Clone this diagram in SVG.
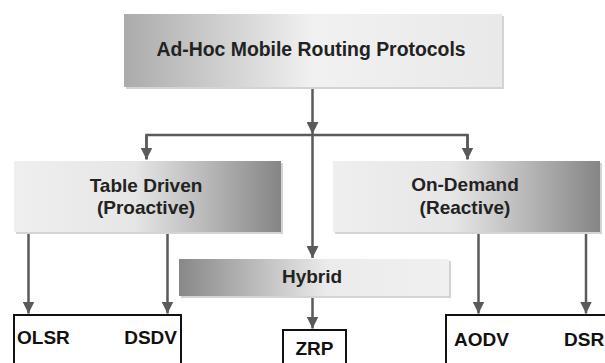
<svg xmlns="http://www.w3.org/2000/svg" width="605" height="363" viewBox="0 0 605 363">
<defs>
<linearGradient id="gTop" x1="0" y1="0" x2="1" y2="0">
<stop offset="0" stop-color="#ababab"/>
<stop offset="0.5" stop-color="#f1f1f1"/>
<stop offset="1" stop-color="#e9e9e9"/>
</linearGradient>
<linearGradient id="gSide" x1="0" y1="0" x2="1" y2="0">
<stop offset="0" stop-color="#efefef"/>
<stop offset="0.45" stop-color="#e6e6e6"/>
<stop offset="0.7" stop-color="#bcbcbc"/>
<stop offset="1" stop-color="#858585"/>
</linearGradient>
<linearGradient id="gHyb" x1="0" y1="0" x2="1" y2="0">
<stop offset="0" stop-color="#888888"/>
<stop offset="0.55" stop-color="#ebebeb"/>
<stop offset="1" stop-color="#f0f0f0"/>
</linearGradient>
<marker id="ah" viewBox="0 0 12 12" refX="12" refY="6" markerWidth="12" markerHeight="12" markerUnits="userSpaceOnUse" orient="auto">
<path d="M0,0 L12,6 L0,12 Z" fill="#5a5a5a"/>
</marker>
</defs>
<style>
.lbl{font-family:"Liberation Sans",Arial,sans-serif;font-weight:bold;font-size:19px;fill:#222;}
.shadow{fill:#d4d4d4;}
.leaf{fill:#fff;stroke:#111;stroke-width:2;}
.conn{stroke:#5a5a5a;stroke-width:2.5;fill:none;}
</style>
<g id="connectors">
<path class="conn" d="M312.5,87 V134" marker-end="url(#ah)"/>
<path class="conn" d="M146.5,159 V135 H467.5 V159" />
<path class="conn" d="M146.5,135 V159.5" marker-end="url(#ah)"/>
<path class="conn" d="M467.5,135 V159.5" marker-end="url(#ah)"/>
<path class="conn" d="M312.5,135 V258" marker-end="url(#ah)"/>
<path class="conn" d="M28.5,232 V313.5" marker-end="url(#ah)"/>
<path class="conn" d="M167.5,232 V313.5" marker-end="url(#ah)"/>
<path class="conn" d="M312.5,296 V328.5" marker-end="url(#ah)"/>
<path class="conn" d="M478.5,232 V313.5" marker-end="url(#ah)"/>
<path class="conn" d="M586,232 V313.5" marker-end="url(#ah)"/>
</g>
<g id="root">
<rect class="shadow" x="126" y="16" width="378" height="73"/>
<rect x="124" y="14" width="378" height="73" fill="url(#gTop)"/>
<text class="lbl" x="311" y="56" text-anchor="middle" style="font-size:19.4px">Ad-Hoc Mobile Routing Protocols</text>
</g>
<g id="table-driven">
<rect class="shadow" x="16" y="163" width="267" height="71"/>
<rect x="14" y="161" width="267" height="71" fill="url(#gSide)"/>
<text class="lbl" x="146" y="192" text-anchor="middle">Table Driven</text>
<text class="lbl" x="146" y="214" text-anchor="middle">(Proactive)</text>
</g>
<g id="on-demand">
<rect class="shadow" x="335" y="163" width="267" height="71"/>
<rect x="333" y="161" width="267" height="71" fill="url(#gSide)"/>
<text class="lbl" x="465" y="191" text-anchor="middle">On-Demand</text>
<text class="lbl" x="465" y="214" text-anchor="middle">(Reactive)</text>
</g>
<g id="hybrid">
<rect class="shadow" x="181" y="261" width="270" height="37"/>
<rect x="179" y="259" width="270" height="37" fill="url(#gHyb)"/>
<text class="lbl" x="312" y="283" text-anchor="middle">Hybrid</text>
</g>
<g id="olsr-dsdv">
<rect class="leaf" x="14" y="315" width="167" height="60"/>
<text class="lbl" x="17" y="344" style="fill:#111">OLSR</text>
<text class="lbl" x="177" y="344" text-anchor="end" style="fill:#111">DSDV</text>
</g>
<g id="zrp">
<rect class="leaf" x="283" y="330" width="63" height="45"/>
<text class="lbl" x="314.5" y="355" text-anchor="middle" style="fill:#111">ZRP</text>
</g>
<g id="aodv-dsr">
<rect class="leaf" x="446" y="315" width="170" height="60"/>
<text class="lbl" x="454" y="346" style="fill:#111">AODV</text>
<text class="lbl" x="564" y="346" style="fill:#111">DSR</text>
</g>
</svg>
